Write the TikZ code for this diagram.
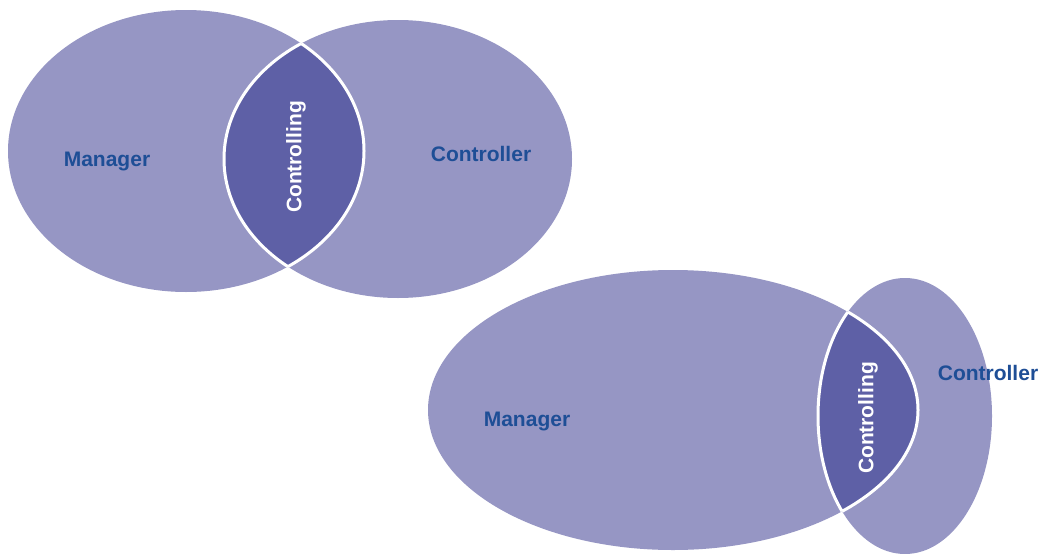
\documentclass[tikz,border=0pt]{standalone}
\usepackage{fontspec}
\setmainfont{Liberation Sans}
\definecolor{setlight}{RGB}{150,150,196}
\definecolor{setdark}{RGB}{94,96,166}
\definecolor{lblblue}{RGB}{30,78,150}
\begin{document}
\begin{tikzpicture}[x=1pt,y=-1pt,
  setfill/.style={fill=setlight},
  lensfill/.style={fill=setdark},
  rim/.style={draw=white,line width=3pt},
  lbl/.style={text=lblblue,font=\bfseries\fontsize{21}{25}\selectfont,inner sep=0pt},
  lenslbl/.style={text=white,font=\bfseries\fontsize{21}{25}\selectfont,rotate=90,inner sep=0pt}]
\fill[white] (0,0) rectangle (1044,554);
\useasboundingbox (0,0) rectangle (1044,554);
\def\TA{(186,151) ellipse [x radius=178pt, y radius=141pt]}
\def\TB{(398,159) ellipse [x radius=174pt, y radius=139pt]}
\def\BA{(673,410) ellipse [x radius=245pt, y radius=140pt]}
\def\BB{(905,416) ellipse [x radius=87pt, y radius=138pt]}
% top diagram
\fill[setfill] \TA;
\fill[setfill] \TB;
\begin{scope}\clip \TA; \fill[lensfill] \TB; \end{scope}
\begin{scope}\clip \TA; \draw[rim] \TB; \end{scope}
\begin{scope}\clip \TB; \draw[rim] \TA; \end{scope}
% bottom diagram
\fill[setfill] \BA;
\fill[setfill] \BB;
\begin{scope}\clip \BA; \fill[lensfill] \BB; \end{scope}
\begin{scope}\clip \BA; \draw[rim] \BB; \end{scope}
\begin{scope}\clip \BB; \draw[rim] \BA; \end{scope}
% labels
\node[lbl] (tman) at (107,161) {Manager};
\node[lbl] (tctl) at (481,154) {Controller};
\node[lenslbl] (tlens) at (296,157) {Controlling};
\node[lbl] (bman) at (527,421) {Manager};
\node[lbl] (bctl) at (988,373) {Controller};
\node[lenslbl] (blens) at (868,418) {Controlling};
\end{tikzpicture}
\end{document}
